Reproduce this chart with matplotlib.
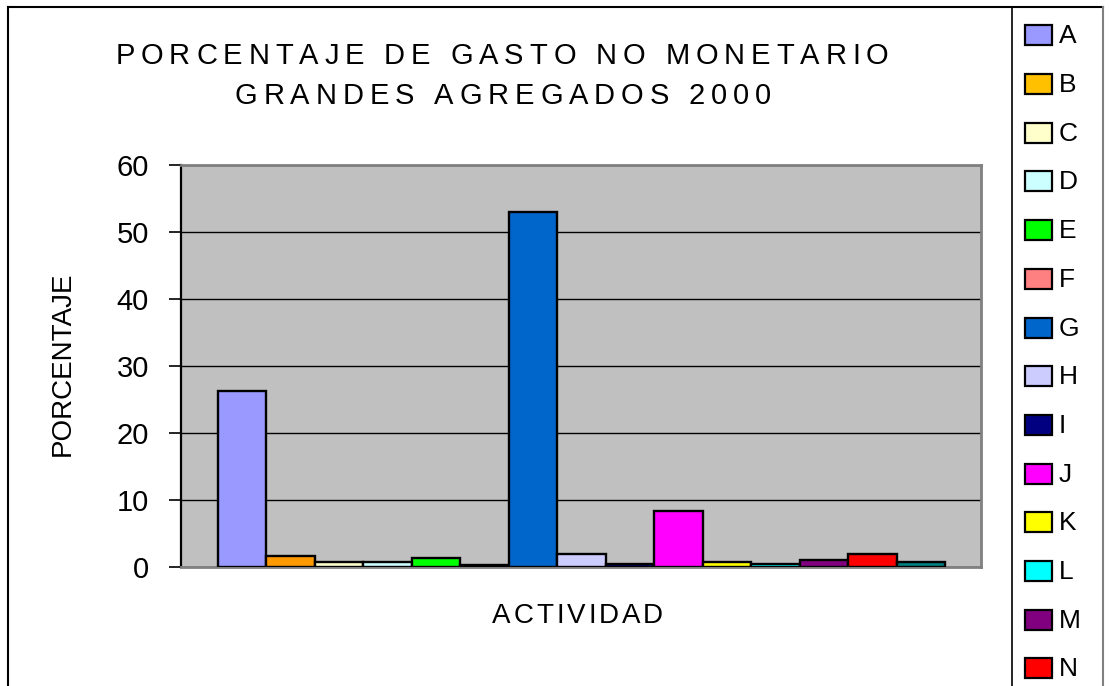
import matplotlib
matplotlib.use("Agg")
import matplotlib.pyplot as plt
from matplotlib.patches import Rectangle
from matplotlib.lines import Line2D
from matplotlib import font_manager
from matplotlib.ft2font import FT2Font

# ---------------- data ----------------
categories = ["A", "B", "C", "D", "E", "F", "G", "H", "I", "J", "K", "L", "M", "N", "O"]
values = [26.3, 1.7, 0.7, 0.7, 1.4, 0.3, 53.0, 2.0, 0.4, 8.3, 0.7, 0.4, 1.1, 2.0, 0.7]
bar_colors = ["#9999FF", "#FF9900", "#FFFFCC", "#CCFFFF", "#00FF00", "#FF8080", "#0066CC",
              "#CCCCFF", "#000080", "#FF00FF", "#FFFF00", "#00FFFF", "#800080", "#FF0000", "#008080"]
legend_labels = ["A", "B", "C", "D", "E", "F", "G", "H", "I", "J", "K", "L", "M", "N"]
legend_colors = ["#9999FF", "#FFC000", "#FFFFCC", "#CCFFFF", "#00FF00", "#FF8080", "#0066CC",
                 "#CCCCFF", "#000080", "#FF00FF", "#FFFF00", "#00FFFF", "#800080", "#FF0000"]
yticks = [0, 10, 20, 30, 40, 50, 60]
title_lines = ["PORCENTAJE DE GASTO NO MONETARIO", "GRANDES AGREGADOS 2000"]
x_label = "ACTIVIDAD"
y_label = "PORCENTAJE"

# ---------------- setup ----------------
W, H = 1109, 686
DPI = 100
FONT = "Liberation Sans"
plt.rcParams['font.family'] = [FONT, 'DejaVu Sans']

fig = plt.figure(figsize=(W / DPI, H / DPI), dpi=DPI)
fig.patch.set_facecolor("white")


def fx(px):
    return px / W


def fy(py):
    return 1 - py / H


# ---------------- axes ----------------
ax = fig.add_axes([fx(181), fy(567), (981 - 181) / W, (567 - 165) / H])
ax.set_facecolor("#C0C0C0")
xpos = list(range(len(values)))
ax.bar(xpos, values, width=1.0, color=bar_colors, edgecolor="black", linewidth=1.7, zorder=3)
ax.set_xlim(-1.263, 15.243)
ax.set_ylim(0, 60)
ax.set_yticks(yticks)
ax.set_xticks([])
ax.yaxis.grid(True, color="black", linewidth=1.0)
ax.set_axisbelow(True)
ax.tick_params(axis="y", length=9, width=1.2, color="black", pad=14, labelsize=21)
for lab in ax.get_yticklabels():
    lab.set_fontfamily(FONT)

ax.spines["left"].set_color("black")
ax.spines["left"].set_linewidth(1.6)
for s in ("top", "right", "bottom"):
    ax.spines[s].set_color("#808080")
    ax.spines[s].set_linewidth(2.0)

# ---------------- tracked text helper ----------------
font_path = font_manager.findfont(font_manager.FontProperties(family=FONT))


def tracked_text(s, cx_px, baseline_px, size, track_px):
    f = FT2Font(font_path)
    f.set_size(size, DPI)
    advs = []
    for c in s:
        g = f.load_char(ord(c))
        advs.append(g.linearHoriAdvance / 65536)
    total = sum(advs) + track_px * (len(s) - 1)
    x = cx_px - total / 2
    for c, a in zip(s, advs):
        if c != " ":
            fig.text(fx(x), fy(baseline_px), c, fontsize=size, ha="left", va="baseline",
                     family=FONT, color="black")
        x += a + track_px


tracked_text(title_lines[0], 502, 64.5, 21, 5.9)
tracked_text(title_lines[1], 503, 103.5, 21, 5.9)
tracked_text(x_label, 577.5, 623, 20, 2.9)

fig.text(fx(63), fy(364), y_label, rotation=90, ha="center", va="center", fontsize=20, family=FONT)

# ---------------- legend ----------------
for i, (lab, col) in enumerate(zip(legend_labels, legend_colors)):
    top = 25.3 + i * 48.7
    fig.patches.append(Rectangle((fx(1025), fy(top + 20)), 26.5 / W, 20 / H,
                                 transform=fig.transFigure, facecolor=col,
                                 edgecolor="black", linewidth=1.6))
    fig.text(fx(1059), fy(top + 18), lab, fontsize=19, ha="left", va="baseline", family=FONT)

# ---------------- borders ----------------
fig.lines.append(Line2D([fx(8), fx(8)], [fy(7), fy(686)], transform=fig.transFigure,
                        color="black", linewidth=1.5))
fig.lines.append(Line2D([fx(8), fx(1103)], [fy(7), fy(7)], transform=fig.transFigure,
                        color="black", linewidth=1.5))
fig.lines.append(Line2D([fx(1012), fx(1012)], [fy(7), fy(686)], transform=fig.transFigure,
                        color="black", linewidth=1.2))
fig.lines.append(Line2D([fx(1103), fx(1103)], [fy(7), fy(686)], transform=fig.transFigure,
                        color="#808080", linewidth=1.5))

fig.savefig("out.png", dpi=DPI)
